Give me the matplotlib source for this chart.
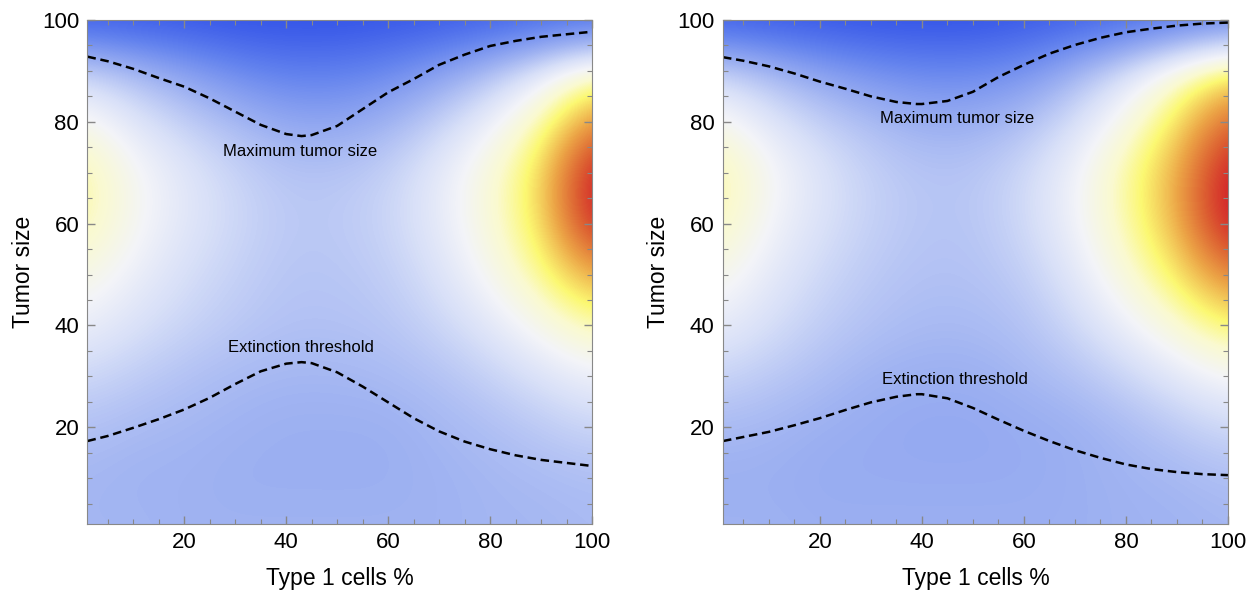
import numpy as np
import matplotlib
matplotlib.use('Agg')
import matplotlib.pyplot as plt
from matplotlib.colors import LinearSegmentedColormap
from matplotlib.ticker import MultipleLocator

plt.rcParams['font.family'] = ['Liberation Sans', 'DejaVu Sans']

# grid of the background field, rows y = 0,10,...,100 and columns x = 0,10,...,100
grid_x = [0, 10, 20, 30, 40, 50, 60, 70, 80, 90, 100]
grid_y = [0, 10, 20, 30, 40, 50, 60, 70, 80, 90, 100]

field_left = [
    [0.31, 0.31, 0.30, 0.30, 0.30, 0.30, 0.30, 0.30, 0.31, 0.31, 0.32],
    [0.31, 0.30, 0.30, 0.29, 0.29, 0.29, 0.29, 0.30, 0.31, 0.32, 0.33],
    [0.34, 0.32, 0.31, 0.30, 0.29, 0.29, 0.29, 0.31, 0.33, 0.36, 0.39],
    [0.40, 0.37, 0.34, 0.32, 0.31, 0.31, 0.32, 0.34, 0.38, 0.43, 0.48],
    [0.48, 0.43, 0.39, 0.36, 0.34, 0.34, 0.35, 0.39, 0.45, 0.53, 0.61],
    [0.55, 0.48, 0.42, 0.38, 0.35, 0.35, 0.37, 0.43, 0.52, 0.63, 0.78],
    [0.62, 0.52, 0.45, 0.40, 0.36, 0.36, 0.39, 0.46, 0.56, 0.69, 0.98],
    [0.63, 0.52, 0.45, 0.39, 0.35, 0.35, 0.38, 0.46, 0.56, 0.70, 1.00],
    [0.54, 0.45, 0.38, 0.32, 0.27, 0.26, 0.30, 0.38, 0.48, 0.61, 0.82],
    [0.39, 0.32, 0.25, 0.18, 0.14, 0.14, 0.17, 0.24, 0.33, 0.45, 0.58],
    [0.03, 0.02, 0.01, 0.00, 0.00, 0.00, 0.01, 0.02, 0.04, 0.06, 0.08],
]

field_right = [
    [0.30, 0.30, 0.29, 0.29, 0.29, 0.29, 0.29, 0.29, 0.30, 0.30, 0.31],
    [0.29, 0.29, 0.28, 0.28, 0.28, 0.28, 0.28, 0.29, 0.30, 0.31, 0.33],
    [0.32, 0.31, 0.29, 0.28, 0.27, 0.27, 0.28, 0.29, 0.32, 0.36, 0.40],
    [0.39, 0.36, 0.33, 0.30, 0.29, 0.29, 0.31, 0.34, 0.39, 0.45, 0.51],
    [0.47, 0.42, 0.37, 0.34, 0.32, 0.32, 0.34, 0.40, 0.48, 0.57, 0.66],
    [0.54, 0.46, 0.40, 0.36, 0.34, 0.34, 0.37, 0.45, 0.56, 0.68, 0.84],
    [0.61, 0.50, 0.43, 0.38, 0.35, 0.35, 0.40, 0.49, 0.61, 0.76, 1.00],
    [0.63, 0.52, 0.44, 0.38, 0.35, 0.35, 0.40, 0.49, 0.62, 0.77, 1.00],
    [0.54, 0.45, 0.38, 0.33, 0.29, 0.29, 0.33, 0.42, 0.54, 0.69, 0.88],
    [0.39, 0.32, 0.25, 0.20, 0.17, 0.17, 0.20, 0.30, 0.42, 0.56, 0.68],
    [0.03, 0.02, 0.01, 0.00, 0.00, 0.00, 0.02, 0.04, 0.07, 0.10, 0.14],
]

# dashed curves
curve_x = [1, 5, 10, 15, 20, 25, 30, 35, 40, 43, 45, 50, 55, 60, 65, 70, 75, 80, 85, 90, 95, 100]
max_left = [92.8, 91.9, 90.4, 88.6, 86.9, 84.6, 82.0, 79.4, 77.6, 77.2, 77.4, 79.2, 82.5, 85.8,
            88.4, 91.2, 93.2, 94.9, 95.9, 96.7, 97.2, 97.7]
ext_left = [17.3, 18.3, 19.9, 21.6, 23.5, 25.8, 28.5, 31.0, 32.5, 32.8, 32.6, 30.8, 28.0, 24.9,
            21.8, 19.2, 17.2, 15.7, 14.5, 13.6, 13.0, 12.4]

curve_x2 = [1, 5, 10, 15, 20, 25, 30, 35, 39, 40, 45, 50, 55, 60, 65, 70, 75, 80, 85, 90, 95, 100]
max_right = [92.7, 92.0, 90.9, 89.5, 87.9, 86.5, 85.0, 83.9, 83.5, 83.5, 84.1, 85.9, 88.8, 91.2,
             93.4, 95.1, 96.5, 97.6, 98.3, 98.9, 99.3, 99.5]
ext_right = [17.3, 18.1, 19.1, 20.4, 21.8, 23.4, 24.9, 26.0, 26.5, 26.5, 25.7, 23.8, 21.5, 19.3,
             17.3, 15.5, 14.0, 12.7, 11.8, 11.2, 10.8, 10.6]

label_pos_left = [(42.8, 74.2), (42.8, 35.6)]
label_pos_right = [(46.8, 80.7), (46.5, 29.3)]

cmap = LinearSegmentedColormap.from_list('temp', [
    (0.0, '#3050e8'), (0.15, '#6282ee'), (0.3, '#a0b3f2'), (0.42, '#d8e0f8'),
    (0.5, '#f3f4f8'), (0.58, '#fafad0'), (0.66, '#fcf872'), (0.78, '#eca446'),
    (0.88, '#dd6232'), (0.96, '#d42a2a'), (1.0, '#d22626')])

fig = plt.figure(figsize=(12.53, 5.94), dpi=100)
ax1 = fig.add_axes([0.0698, 0.1178, 0.4027, 0.8485])
ax2 = fig.add_axes([0.577, 0.1178, 0.403, 0.8485])

panels = [
    (ax1, field_left, curve_x, max_left, ext_left, label_pos_left),
    (ax2, field_right, curve_x2, max_right, ext_right, label_pos_right),
]

for ax, field, cx, cmax, cext, lpos in panels:
    ax.imshow(np.array(field), origin='lower', cmap=cmap, vmin=0, vmax=1,
              extent=[grid_x[0] - 5, grid_x[-1] + 5, grid_y[0] - 5, grid_y[-1] + 5],
              interpolation='bicubic', aspect='auto')
    ax.plot(cx, cmax, color='black', lw=1.8, dashes=(3.4, 1.9))
    ax.plot(cx, cext, color='black', lw=1.8, dashes=(3.4, 1.9))
    ax.text(lpos[0][0], lpos[0][1], 'Maximum tumor size', fontsize=12, ha='center', va='center')
    ax.text(lpos[1][0], lpos[1][1], 'Extinction threshold', fontsize=12, ha='center', va='center')
    ax.set_xlim(1, 100)
    ax.set_ylim(1, 100)
    ax.xaxis.set_major_locator(MultipleLocator(20))
    ax.yaxis.set_major_locator(MultipleLocator(20))
    ax.xaxis.set_minor_locator(MultipleLocator(5))
    ax.yaxis.set_minor_locator(MultipleLocator(5))
    ax.tick_params(which='both', direction='in', top=True, right=True, color='#888888',
                   labelsize=16, pad=6)
    ax.tick_params(which='major', length=6, width=1)
    ax.tick_params(which='minor', length=3.5, width=0.8)
    for s in ax.spines.values():
        s.set_color('#888888')
    ax.set_xlabel('Type 1 cells %', fontsize=16.5, labelpad=10)
    ax.set_ylabel('Tumor size', fontsize=16.5, labelpad=5)

plt.savefig('out.png', dpi=100)
